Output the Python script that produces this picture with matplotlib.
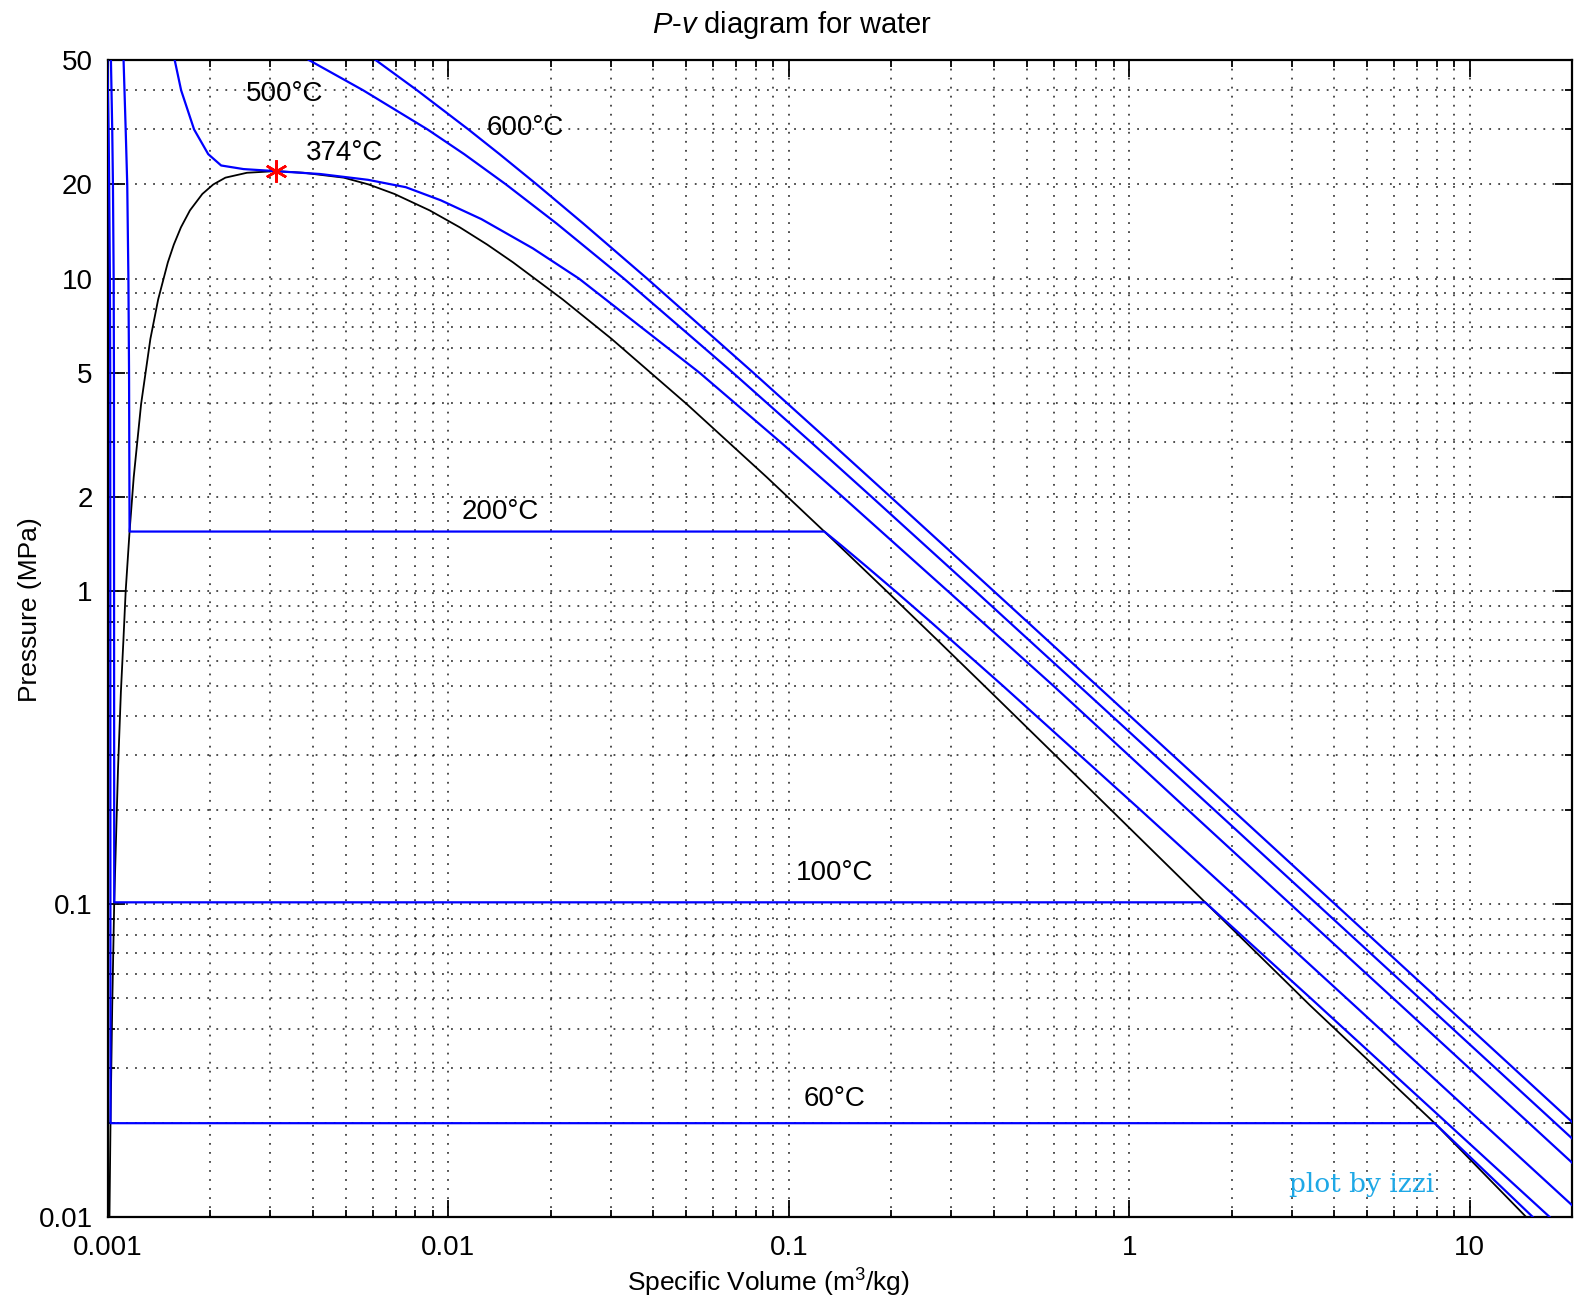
import numpy as np
import matplotlib
matplotlib.use("Agg")
import matplotlib.pyplot as plt
from matplotlib.ticker import NullFormatter, LogLocator

plt.rcParams['font.family'] = ['Liberation Sans', 'DejaVu Sans']
plt.rcParams['mathtext.fontset'] = 'custom'
plt.rcParams['mathtext.rm'] = 'Liberation Sans'
plt.rcParams['mathtext.it'] = 'Liberation Sans:italic'

# saturation dome (MPa, m3/kg)
p_sat = [0.01, 0.01995, 0.04739, 0.1014, 0.2701, 0.4758, 0.7, 1.0021, 1.5538, 2.318,
         3.973, 6.416, 8.581, 11.27, 12.85, 14.59, 16.53, 18.65, 20.0, 21.03, 21.8, 22.064]
v_liq = [0.00101, 0.001017, 0.001029, 0.001043, 0.00107, 0.001091, 0.00111, 0.001127, 0.001157, 0.00119,
         0.001251, 0.001332, 0.001404, 0.001499, 0.001561, 0.001638, 0.001741, 0.001893, 0.002038, 0.002213, 0.00256, 0.003106]
v_vap = [14.67, 7.9, 3.407, 1.672, 0.6685, 0.3928, 0.2728, 0.19384, 0.12721, 0.08619,
         0.05013, 0.03017, 0.02167, 0.01549, 0.013, 0.0108, 0.008806, 0.006945, 0.005834, 0.004926, 0.00375, 0.003106]

# isotherms
v_60 = [0.000996, 0.001004, 0.001008, 0.001013, 0.001015, 0.001017, 7.9, 15.34]
p_60 = [50, 30, 20, 10, 5, 0.01995, 0.01995, 0.01]

v_100 = [0.00102, 0.001029, 0.001034, 0.001039, 0.001041, 0.001043, 1.672, 3.418, 17.196]
p_100 = [50, 30, 20, 10, 5, 0.1014, 0.1014, 0.05, 0.01]

v_200 = [0.001111, 0.001127, 0.001139, 0.001148, 0.001153, 0.001157, 0.12721, 0.143, 0.1693,
         0.206, 0.2608, 0.4249, 1.0803, 2.172, 4.356, 21.825]
p_200 = [50, 30, 20, 10, 5, 1.5538, 1.5538, 1.4, 1.2, 1.0, 0.8, 0.5, 0.2, 0.1, 0.05, 0.01]

v_374 = [0.00157, 0.00164, 0.00179, 0.00197, 0.00215, 0.0025, 0.003106, 0.0042, 0.0058, 0.0075,
         0.0095, 0.0125, 0.0177, 0.0242, 0.0547, 0.0946, 0.1444, 0.294, 0.598, 1.49, 2.98, 5.97, 29.85]
p_374 = [50, 40, 30, 25, 23.0, 22.4, 22.064, 21.6, 20.7, 19.6, 17.8, 15.5, 12.5, 10, 5, 3, 2, 1,
         0.5, 0.2, 0.1, 0.05, 0.01]

v_500 = [0.00389, 0.00562, 0.00868, 0.01113, 0.01477, 0.0208, 0.03279, 0.06857, 0.11619, 0.17568,
         0.35411, 0.71095, 1.78142, 3.56531, 7.1343, 35.679]
p_500 = [50, 40, 30, 25, 20, 15, 10, 5, 3, 2, 1, 0.5, 0.2, 0.1, 0.05, 0.01]

v_600 = [0.006112, 0.008094, 0.011446, 0.014137, 0.018184, 0.02491, 0.03837, 0.0787, 0.13248,
         0.19962, 0.40111, 0.80409, 2.01297, 4.0279, 8.057, 40.29]
p_600 = [50, 40, 30, 25, 20, 15, 10, 5, 3, 2, 1, 0.5, 0.2, 0.1, 0.05, 0.01]

crit_v, crit_p = 0.003106, 22.064

x_ticks = [0.001, 0.01, 0.1, 1, 10]
x_labels = ['0.001', '0.01', '0.1', '1', '10']
y_ticks = [0.01, 0.1, 1, 2, 5, 10, 20, 50]
y_labels = ['0.01', '0.1', '1', '2', '5', '10', '20', '50']

# isotherm labels: text, v, P
iso_labels = [('500°C', 0.00331, 39.0), ('600°C', 0.0168, 30.3), ('374°C', 0.00497, 25.2),
              ('200°C', 0.0142, 1.80), ('100°C', 0.1365, 0.1256), ('60°C', 0.1365, 0.0238)]

fig = plt.figure(figsize=(15.75, 13.14), dpi=100)
ax = fig.add_axes([108/1575, 1 - 1217/1314, (1572-108)/1575, (1217-60)/1314])

blue = '#0000FF'
ax.plot(v_liq + v_vap[::-1], p_sat + p_sat[::-1], color='k', lw=1.3, zorder=3)
for v, p in [(v_60, p_60), (v_100, p_100), (v_200, p_200), (v_374, p_374), (v_500, p_500), (v_600, p_600)]:
    ax.plot(v, p, color=blue, lw=1.6, zorder=4)
ax.plot([crit_v], [crit_p], marker=(6, 2, 0), color='red', markersize=16, mew=1.8, zorder=5)

ax.set_xscale('log')
ax.set_yscale('log')
ax.set_xlim(0.001, 20)
ax.set_ylim(0.01, 50)

ax.set_xticks(x_ticks)
ax.set_xticklabels(x_labels)
ax.set_yticks(y_ticks)
ax.set_yticklabels(y_labels)
ax.xaxis.set_minor_locator(LogLocator(base=10, subs=np.arange(2, 10)))
ax.yaxis.set_minor_locator(LogLocator(base=10, subs=np.arange(2, 10)))
ax.xaxis.set_minor_formatter(NullFormatter())
ax.yaxis.set_minor_formatter(NullFormatter())

ax.grid(True, which='both', linestyle=(0, (1, 4)), color='k', lw=1.3, alpha=0.75)
ax.tick_params(which='both', direction='in', top=True, right=True, labelsize=20, width=1.3)
ax.tick_params(which='major', length=12, pad=11)
ax.tick_params(axis='x', which='major', pad=13)
ax.tick_params(which='minor', length=5)
for s in ax.spines.values():
    s.set_linewidth(1.6)

for txt, v, p in iso_labels:
    ax.text(v, p, txt, fontsize=20, ha='center', va='center', zorder=6)

ax.text(0.8566, 0.028, 'plot by izzi', transform=ax.transAxes, fontsize=19, color='#1EA8E6',
        family=['DejaVu Serif'], ha='center', va='center')

fig.text(0.503, 1 - 25/1314, '$P$-$v$ diagram for water', fontsize=21, ha='center', va='center')
fig.text(768/1575, 1 - 1283/1314, 'Specific Volume (m$^3$/kg)', fontsize=19, ha='center', va='center')
fig.text(30/1575, 1 - 610/1314, 'Pressure (MPa)', fontsize=19, ha='center', va='center', rotation=90)

fig.savefig('out.png', dpi=100, facecolor='white')
